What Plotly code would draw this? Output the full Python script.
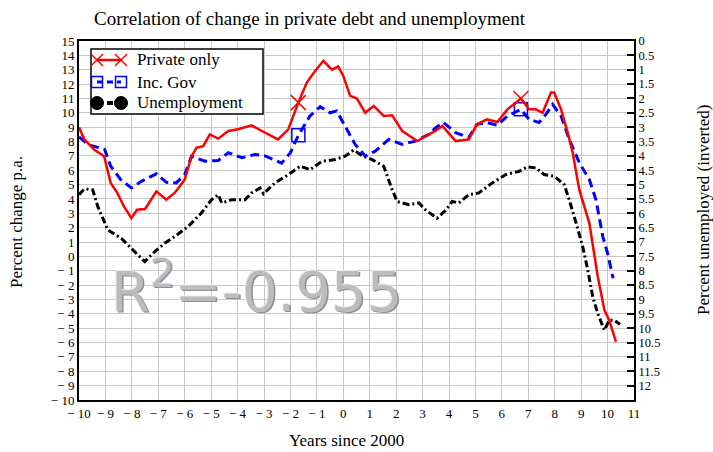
import plotly.graph_objects as go

# ---- data -----------------------------------------------------------------
# Annual change in private debt (percent p.a.), by years since 2000
private_years = [-10.0, -9.8, -9.43, -9.05, -8.8, -8.55, -8.3, -8.02, -7.8, -7.5,
                 -7.07, -6.7, -6.38, -6.0, -5.74, -5.55, -5.3, -5.05, -4.73, -4.35,
                 -3.98, -3.47, -3.1, -2.47, -2.08, -1.7, -1.38, -1.06, -0.75, -0.43,
                 -0.19, 0.0, 0.26, 0.52, 0.83, 1.15, 1.53, 1.85, 2.23, 2.8,
                 3.24, 3.5, 3.75, 4.25, 4.75, 5.06, 5.44, 5.83, 6.21, 6.72,
                 7.03, 7.29, 7.54, 7.86, 7.98, 8.24, 8.49, 8.68, 8.93, 9.31,
                 9.63, 9.88, 10.06, 10.32]
private_change = [9.0, 8.15, 7.45, 6.98, 5.12, 4.42, 3.48, 2.67, 3.25, 3.3,
                  4.53, 3.95, 4.42, 5.35, 6.98, 7.57, 7.68, 8.5, 8.2, 8.73,
                  8.85, 9.13, 8.75, 8.15, 8.85, 10.71, 12.11, 12.93, 13.62, 13.0,
                  13.23, 12.57, 11.18, 10.99, 10.0, 10.48, 9.78, 9.83, 8.73, 8.03,
                  8.5, 8.75, 9.08, 8.03, 8.15, 9.2, 9.55, 9.36, 10.24, 10.99,
                  10.24, 10.24, 10.0, 11.41, 11.41, 10.24, 8.62, 7.22, 4.65, 2.32,
                  -1.41, -3.74, -4.44, -5.96]

# Change in debt including government debt (percent p.a.)
gov_years = [-10.0, -9.67, -9.03, -8.8, -8.42, -8.02, -7.64, -7.07, -6.69, -6.32,
             -6.0, -5.74, -5.24, -4.73, -4.35, -3.84, -3.34, -2.96, -2.33, -2.0,
             -1.7, -1.26, -0.87, -0.5, -0.25, 0.13, 0.45, 0.83, 1.21, 1.72,
             2.23, 2.73, 3.24, 3.5, 3.79, 4.25, 4.75, 5.06, 5.44, 5.83,
             6.21, 6.72, 7.03, 7.41, 7.67, 7.92, 8.24, 8.55, 8.93, 9.31,
             9.56, 9.82, 10.0, 10.21]
gov_change = [8.33, 7.8, 7.45, 6.28, 5.35, 4.77, 5.23, 5.75, 5.16, 5.12,
              5.7, 6.98, 6.63, 6.68, 7.22, 6.87, 7.1, 7.0, 6.5, 7.22,
              8.43, 9.78, 10.43, 10.0, 10.13, 8.85, 7.8, 6.98, 7.33, 8.15,
              7.8, 8.03, 8.5, 8.97, 9.32, 8.62, 8.27, 9.2, 9.32, 9.13,
              9.78, 10.24, 9.55, 9.32, 9.9, 10.59, 9.78, 8.15, 6.52, 5.35,
              3.95, 1.38, 0.22, -1.52]

# Unemployment rate (percent), plotted on the inverted right-hand axis
unemp_years = [-10.0, -9.8, -9.48, -9.29, -8.91, -8.4, -8.02, -7.51, -7.13, -6.76,
               -6.38, -5.87, -5.37, -4.99, -4.73, -4.6, -4.23, -3.72, -3.47, -3.15,
               -3.02, -2.58, -2.07, -1.63, -1.26, -0.81, -0.31, 0.07, 0.39, 0.71,
               1.09, 1.53, 1.85, 2.04, 2.48, 2.86, 3.11, 3.55, 3.87, 4.12,
               4.37, 4.75, 5.13, 5.64, 6.15, 6.65, 6.97, 7.29, 7.6, 7.98,
               8.36, 8.55, 8.81, 9.06, 9.25, 9.44, 9.63, 9.88, 10.06, 10.25,
               10.47]
unemp_rate = [5.35, 5.15, 5.18, 5.76, 6.58, 6.87, 7.22, 7.68, 7.33, 7.04,
              6.81, 6.46, 5.99, 5.53, 5.35, 5.64, 5.53, 5.53, 5.29, 5.12,
              5.32, 4.94, 4.65, 4.36, 4.48, 4.19, 4.13, 4.01, 3.8, 3.99,
              4.13, 4.36, 5.18, 5.59, 5.7, 5.64, 5.88, 6.17, 5.9, 5.59,
              5.64, 5.35, 5.29, 4.94, 4.65, 4.54, 4.38, 4.42, 4.65, 4.71,
              5.0, 5.53, 6.34, 7.16, 7.97, 8.91, 9.49, 10.07, 9.72, 9.72,
              9.86]

# Years at which the debt series carry point markers
marker_years = [-1.7, 6.72]

# Axis ticks
x_ticks = list(range(-10, 12))
left_ticks = list(range(-10, 16))
right_ticks = [i / 2 for i in range(0, 25)]

r_squared = -0.955


def tick_label(v):
    return f"\u2212 {abs(v)}" if v < 0 else str(v)


def right_label(v):
    return str(int(v)) if float(v).is_integer() else f"{v:g}"


def marked(xs, ys):
    lookup = dict(zip(xs, ys))
    return marker_years, [lookup[m] for m in marker_years]


SERIF = "Liberation Serif"
RED = "#ff0000"
BLUE = "#0000ff"
GRID = "#c8c8c8"

# plot area in pixels: x 79..634, y 41..400
L, R, T, B = 79, 79, 41, 52
W, H = 713, 452
PW, PH = W - L - R, H - T - B


def px_x(px):
    return (px - L) / PW


def px_y(py):
    return (H - B - py) / PH


fig = go.Figure()

# Unemployment on the base (right) axis, debt series on the overlaid left axis
fig.add_trace(go.Scatter(
    x=unemp_years, y=unemp_rate, yaxis="y", mode="lines",
    line=dict(color="black", width=3, dash="7px,3px,2px,3px"),
    showlegend=False, hoverinfo="skip"))
fig.add_trace(go.Scatter(
    x=gov_years, y=gov_change, yaxis="y2", mode="lines",
    line=dict(color=BLUE, width=3, dash="9px,5px"),
    showlegend=False, hoverinfo="skip"))
mx, my = marked(gov_years, gov_change)
fig.add_trace(go.Scatter(
    x=mx, y=my, yaxis="y2", mode="markers",
    marker=dict(symbol="square-open", size=13, color=BLUE, line=dict(width=1.5, color=BLUE)),
    showlegend=False, hoverinfo="skip"))
fig.add_trace(go.Scatter(
    x=private_years, y=private_change, yaxis="y2", mode="lines",
    line=dict(color=RED, width=2.5),
    showlegend=False, hoverinfo="skip"))
mx, my = marked(private_years, private_change)
fig.add_trace(go.Scatter(
    x=mx, y=my, yaxis="y2", mode="markers",
    marker=dict(symbol="x-thin-open", size=15, color=RED, line=dict(width=1.5, color=RED)),
    showlegend=False, hoverinfo="skip"))

tick_font = dict(family=SERIF, size=13, color="black")

fig.update_layout(
    width=W, height=H,
    margin=dict(l=L, r=R, t=T, b=B),
    paper_bgcolor="white", plot_bgcolor="white",
    showlegend=False,
    xaxis=dict(
        range=[-10, 11], tickmode="array", tickvals=x_ticks,
        ticktext=[tick_label(v) for v in x_ticks],
        showgrid=True, gridcolor=GRID, gridwidth=1,
        showline=True, linecolor="black", linewidth=2, mirror=True,
        ticks="", zeroline=False, tickfont=tick_font,
    ),
    yaxis=dict(
        range=[12.5, 0], side="right", tickmode="array", tickvals=right_ticks,
        ticktext=[right_label(v) for v in right_ticks],
        showgrid=False, zeroline=False,
        showline=True, linecolor="black", linewidth=2,
        ticks="inside", ticklen=7, tickwidth=1.5, tickcolor="black",
        tickfont=dict(family=SERIF, size=12.5, color="black"),
    ),
    yaxis2=dict(
        range=[-10, 15], side="left", overlaying="y", tickmode="array",
        tickvals=left_ticks, ticktext=[tick_label(v) for v in left_ticks],
        showgrid=True, gridcolor=GRID, gridwidth=1, zeroline=False,
        showline=True, linecolor="black", linewidth=2,
        ticks="", tickfont=tick_font,
    ),
)

annotations = [
    dict(text="Correlation of change in private debt and unemployment",
         x=px_x(92), y=px_y(18), xanchor="left", yanchor="middle",
         font=dict(family=SERIF, size=19, color="black")),
    dict(text="Years since 2000", x=px_x(346), y=px_y(440),
         xanchor="center", yanchor="middle",
         font=dict(family=SERIF, size=17, color="black")),
    dict(text="Percent change p.a.", x=px_x(17), y=px_y(222), textangle=-90,
         xanchor="center", yanchor="middle",
         font=dict(family=SERIF, size=17, color="black")),
    dict(text="Percent unemployed (inverted)", x=px_x(703), y=px_y(210), textangle=-90,
         xanchor="center", yanchor="middle",
         font=dict(family=SERIF, size=17, color="black")),
]

# Embossed correlation label: light highlight and dark shadow around a grey face
annotations.append(dict(
    text=f"R<sup>2</sup>={r_squared:.3f}", x=px_x(256), y=px_y(287),
    xanchor="center", yanchor="middle",
    font=dict(family="DejaVu Sans", size=56, color="#bcbcbc",
              shadow="-1px -1px 0px #ececec, 1.5px 1.5px 0px #8f8f8f")))

# Legend, drawn as a boxed key
shapes = [dict(type="rect", xref="paper", yref="paper",
               x0=px_x(91), x1=px_x(263), y0=px_y(114), y1=px_y(49),
               line=dict(color="black", width=1.5), fillcolor="white", layer="above")]
legend_rows = [("Private only", RED, "solid", 2.5, "x", 60),
               ("Inc. Gov", BLUE, "dash", 3, "square", 82),
               ("Unemployment", "black", "dash", 4, "circle", 103)]
for label, col, dash, lw, sym, row_y in legend_rows:
    yy = px_y(row_y)
    shapes.append(dict(type="line", xref="paper", yref="paper",
                       x0=px_x(97), x1=px_x(121), y0=yy, y1=yy,
                       line=dict(color=col, width=lw, dash="6px,4px" if dash == "dash" else "solid"),
                       layer="above"))
    for cx in (97, 121):
        common = dict(xref="paper", yref="paper", xsizemode="pixel", ysizemode="pixel",
                      xanchor=px_x(cx), yanchor=yy, layer="above")
        if sym == "x":
            shapes.append(dict(type="line", x0=-6, x1=6, y0=-6, y1=6,
                               line=dict(color=col, width=1.5), **common))
            shapes.append(dict(type="line", x0=-6, x1=6, y0=6, y1=-6,
                               line=dict(color=col, width=1.5), **common))
        elif sym == "square":
            shapes.append(dict(type="rect", x0=-5.5, x1=5.5, y0=-5.5, y1=5.5,
                               line=dict(color=col, width=1.5), **common))
        else:
            shapes.append(dict(type="circle", x0=-6.5, x1=6.5, y0=-6.5, y1=6.5,
                               line=dict(color=col, width=1), fillcolor=col, **common))
    annotations.append(dict(text=label, x=px_x(135), y=yy, xanchor="left", yanchor="middle",
                            font=dict(family=SERIF, size=17, color="black")))

for a in annotations:
    a.setdefault("xref", "paper")
    a.setdefault("yref", "paper")
    a.setdefault("showarrow", False)

fig.update_layout(annotations=annotations, shapes=shapes)

fig.write_html("out.html")
